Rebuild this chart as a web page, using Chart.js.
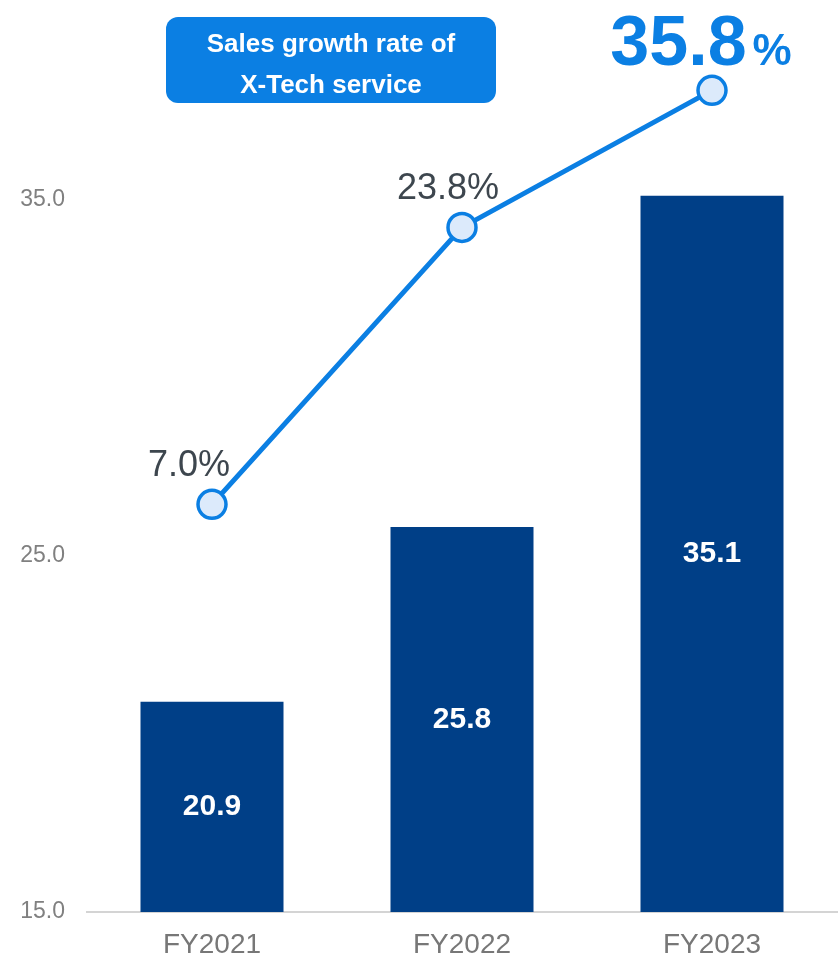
<!DOCTYPE html>
<html>
<head>
<meta charset="utf-8">
<script src="https://cdn.jsdelivr.net/npm/chart.js@4/dist/chart.umd.min.js"></script>
<style>
  html, body { margin: 0; padding: 0; background: #fff; }
  #wrap { width: 839px; height: 960px; }
</style>
</head>
<body>
<div id="wrap"><canvas id="myChart" width="839" height="960"></canvas></div>
<script>
// chart data
const years = ["FY2021", "FY2022", "FY2023"];
const sales = [20.9, 25.8, 35.1];
const growthRate = [7.0, 23.8, 35.8];
const yTicks = [15, 25, 35];
const titleLines = ["Sales growth rate of", "X-Tech service"];

const BAR_COLOR = "#003f87";
const LINE_COLOR = "#0b7fe3";
const FONT = "'Liberation Sans', Arial, sans-serif";

// square-root scale for the growth line (hidden axis)
const ssqrt = (v) => Math.sign(v) * Math.sqrt(Math.abs(v));
class SqrtScale extends Chart.LinearScale {
  getPixelForValue(value) {
    if (value === null || value === undefined) return NaN;
    const a = ssqrt(this.min), b = ssqrt(this.max);
    return this.getPixelForDecimal((ssqrt(value) - a) / (b - a));
  }
  getValueForPixel(pixel) {
    const a = ssqrt(this.min), b = ssqrt(this.max);
    const s = a + this.getDecimalForPixel(pixel) * (b - a);
    return Math.sign(s) * s * s;
  }
}
SqrtScale.id = "sqrt";
SqrtScale.defaults = Chart.LinearScale.defaults;
Chart.register(SqrtScale);

const labelPlugin = {
  id: "labels",
  afterDatasetsDraw(chart) {
    const ctx = chart.ctx;
    const area = chart.chartArea;
    ctx.save();

    // values inside the bars
    const barMeta = chart.getDatasetMeta(1);
    ctx.fillStyle = "#ffffff";
    ctx.font = "bold 30px " + FONT;
    ctx.textAlign = "center";
    ctx.textBaseline = "middle";
    barMeta.data.forEach((bar, i) => {
      ctx.fillText(sales[i].toFixed(1), bar.x, (bar.y + area.bottom) / 2);
    });

    // growth rate labels above the points
    const lineMeta = chart.getDatasetMeta(0);
    const dx = [-23, -14];
    lineMeta.data.forEach((pt, i) => {
      const txt = growthRate[i].toFixed(1);
      if (i === growthRate.length - 1) {
        ctx.fillStyle = LINE_COLOR;
        ctx.font = "bold 70px " + FONT;
        const w1 = ctx.measureText(txt).width;
        ctx.font = "bold 44px " + FONT;
        const w2 = ctx.measureText("%").width;
        const x0 = pt.x - 11 - (w1 + w2 + 6) / 2;
        ctx.textAlign = "left";
        ctx.textBaseline = "alphabetic";
        ctx.font = "bold 70px " + FONT;
        ctx.fillText(txt, x0, pt.y - 25);
        ctx.font = "bold 44px " + FONT;
        ctx.fillText("%", x0 + w1 + 6, pt.y - 25);
      } else {
        ctx.fillStyle = "#3d464e";
        ctx.font = "36px " + FONT;
        ctx.textAlign = "center";
        ctx.textBaseline = "alphabetic";
        ctx.fillText(txt + "%", pt.x + dx[i], pt.y - 28);
      }
    });

    // title box
    const bx = 166, by = 17, bw = 330, bh = 86;
    ctx.fillStyle = LINE_COLOR;
    ctx.beginPath();
    ctx.roundRect(bx, by, bw, bh, 12);
    ctx.fill();
    ctx.fillStyle = "#ffffff";
    ctx.font = "bold 26px " + FONT;
    ctx.textAlign = "center";
    ctx.textBaseline = "middle";
    ctx.fillText(titleLines[0], bx + bw / 2, by + 28);
    ctx.fillText(titleLines[1], bx + bw / 2, by + 69);

    ctx.restore();
  },
};

const ctx = document.getElementById("myChart").getContext("2d");
const myChart = new Chart(ctx, {
  data: {
    labels: years,
    datasets: [
      {
        type: "line",
        label: "Sales growth rate",
        data: growthRate,
        yAxisID: "yLine",
        borderColor: LINE_COLOR,
        borderWidth: 5,
        pointRadius: 14,
        pointBorderWidth: 3.5,
        pointBackgroundColor: "#dceafb",
        pointBorderColor: LINE_COLOR,
        tension: 0,
        order: 0,
      },
      {
        type: "bar",
        label: "Sales",
        data: sales,
        yAxisID: "y",
        backgroundColor: BAR_COLOR,
        barPercentage: 0.572,
        categoryPercentage: 1.0,
        order: 1,
      },
    ],
  },
  options: {
    responsive: false,
    animation: false,
    layout: { autoPadding: false, padding: { top: 21, right: 2, left: 0, bottom: 0 } },
    plugins: {
      legend: { display: false },
      tooltip: { enabled: false },
    },
    scales: {
      x: {
        grid: { display: false, drawTicks: false },
        border: { display: true, color: "#d4d4d4", width: 2 },
        ticks: {
          color: "#777777",
          font: { family: FONT, size: 28 },
          padding: 16,
        },
        afterFit: (scale) => { scale.height = 48; },
      },
      y: {
        min: 15,
        max: 40,
        grid: { display: false, drawTicks: false },
        border: { display: false },
        ticks: {
          color: "#808080",
          font: { family: FONT, size: 23 },
          padding: 22,
          callback: (v) => Number(v).toFixed(1),
        },
        afterBuildTicks: (axis) => { axis.ticks = yTicks.map((v) => ({ value: v })); },
        afterFit: (scale) => {
          scale.width = 87;
          scale.paddingTop = 0;
          scale.paddingBottom = 0;
        },
      },
      yLine: {
        type: "sqrt",
        position: "right",
        display: false,
        min: -0.41,
        max: 42.8,
      },
    },
  },
  plugins: [labelPlugin],
});
</script>
</body>
</html>
